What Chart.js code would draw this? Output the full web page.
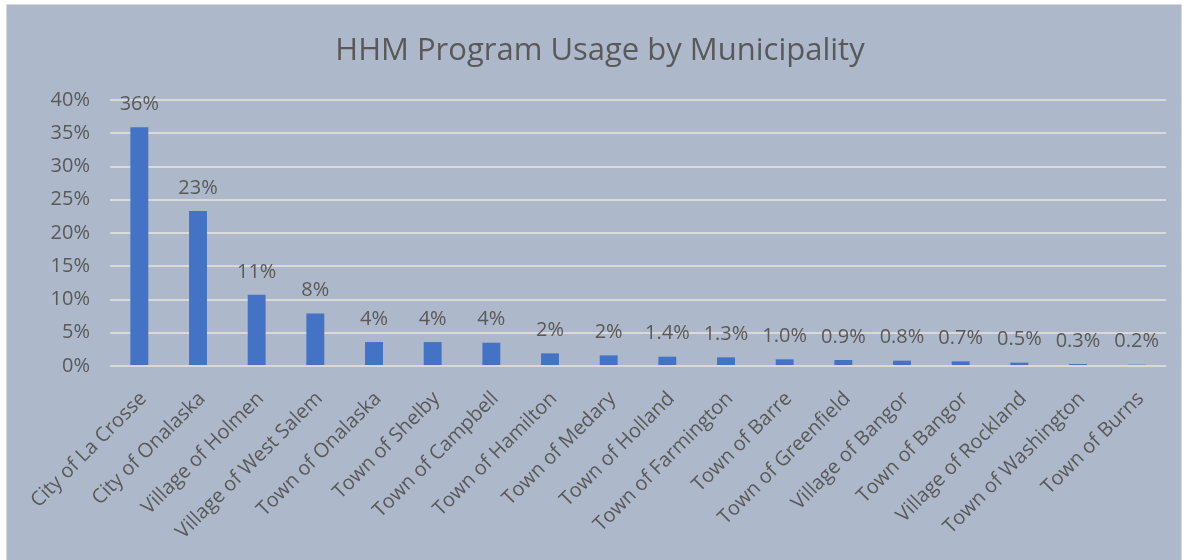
<!DOCTYPE html>
<html>
<head>
<meta charset="utf-8">
<script src="https://cdn.jsdelivr.net/npm/chart.js@4.4.1/dist/chart.umd.min.js"></script>
<style>
  html, body { margin: 0; padding: 0; background: #ffffff; width: 1183px; height: 560px; overflow: hidden; }
  #box { position: absolute; left: 7px; top: 5px; width: 1174px; height: 556px; background: #ADB9CA; outline: 1px solid #D9D9D9; }
  canvas { position: absolute; left: 0; top: 0; }
</style>
</head>
<body>
<div id="box"><canvas id="c" width="1174" height="556"></canvas></div>
<script>
const chartTitle = 'HHM Program Usage by Municipality';
const categories = [
  'City of La Crosse', 'City of Onalaska', 'Village of Holmen', 'Village of West Salem',
  'Town of Onalaska', 'Town of Shelby', 'Town of Campbell', 'Town of Hamilton',
  'Town of Medary', 'Town of Holland', 'Town of Farmington', 'Town of Barre',
  'Town of Greenfield', 'Village of Bangor', 'Town of Bangor', 'Village of Rockland',
  'Town of Washington', 'Town of Burns'
];
const usagePercent = [35.9, 23.3, 10.7, 7.9, 3.6, 3.6, 3.5, 1.9, 1.6, 1.4, 1.3, 1.0, 0.9, 0.8, 0.7, 0.5, 0.3, 0.2];
const valueLabels = ['36%', '23%', '11%', '8%', '4%', '4%', '4%', '2%', '2%', '1.4%', '1.3%', '1.0%', '0.9%', '0.8%', '0.7%', '0.5%', '0.3%', '0.2%'];
const yTicks = [0, 5, 10, 15, 20, 25, 30, 35, 40];

const FONT = "'Open Sans', 'DejaVu Sans', sans-serif";
const TEXT = '#595959';

const titlePlugin = {
  id: 'customTitle',
  afterDraw(chart) {
    const ctx = chart.ctx;
    ctx.save();
    ctx.font = "31px " + FONT;
    ctx.fillStyle = TEXT;
    ctx.textAlign = 'center';
    ctx.textBaseline = 'alphabetic';
    ctx.fillText(chartTitle, 593, 55);
    ctx.restore();
  }
};

const valueLabelPlugin = {
  id: 'valueLabels',
  afterDatasetsDraw(chart) {
    const ctx = chart.ctx;
    const meta = chart.getDatasetMeta(0);
    ctx.save();
    ctx.font = "20px " + FONT;
    ctx.fillStyle = TEXT;
    ctx.textAlign = 'center';
    ctx.textBaseline = 'middle';
    meta.data.forEach((bar, i) => {
      ctx.fillText(valueLabels[i], bar.x, bar.y - 23);
    });
    ctx.restore();
  }
};

new Chart(document.getElementById('c'), {
  type: 'bar',
  data: {
    labels: categories,
    datasets: [{
      data: usagePercent,
      backgroundColor: '#4472C4',
      borderWidth: 0,
      categoryPercentage: 1,
      barPercentage: 0.305
    }]
  },
  options: {
    responsive: false,
    animation: false,
    layout: { padding: { left: 0, right: 15, top: 95, bottom: 0 } },
    plugins: { legend: { display: false }, title: { display: false }, tooltip: { enabled: false } },
    scales: {
      x: {
        grid: { display: false },
        border: { display: false },
        ticks: {
          color: TEXT,
          font: { family: FONT, size: 20 },
          minRotation: 45,
          maxRotation: 45,
          autoSkip: false,
          padding: 13,
          labelOffset: 4
        },
        afterFit(s) { s.height = 195; }
      },
      y: {
        min: 0,
        max: 40,
        afterBuildTicks(s) { s.ticks = yTicks.map(v => ({ value: v })); },
        grid: { color: '#D9D9D9', lineWidth: 2, drawTicks: false },
        border: { display: false },
        ticks: {
          color: TEXT,
          font: { family: FONT, size: 20 },
          padding: 20,
          callback: v => v + '%'
        },
        afterFit(s) { s.width = 103; }
      }
    }
  },
  plugins: [titlePlugin, valueLabelPlugin]
});
</script>
</body>
</html>
